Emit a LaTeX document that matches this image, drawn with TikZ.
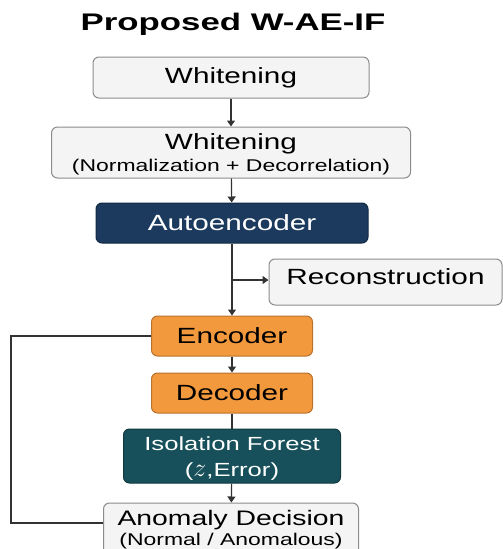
\documentclass[tikz,border=0pt]{standalone}
\usepackage{fontspec}
\setmainfont{Liberation Sans}[FakeStretch=1.35]
\newfontfamily\titlefont{Liberation Sans}[FakeStretch=1.45]
\usepackage{graphicx}
\usepackage{xcolor}
\usetikzlibrary{arrows.meta}

\definecolor{linegray}{HTML}{333333}
\definecolor{boxgray}{HTML}{F4F4F4}
\definecolor{bordergray}{HTML}{8C8C8C}
\definecolor{navybox}{HTML}{1B3A5E}
\definecolor{orangebox}{HTML}{F3993D}
\definecolor{orangeedge}{HTML}{B87230}
\definecolor{tealbox}{HTML}{17505A}

\begin{document}
\begin{tikzpicture}[x=1pt,y=-1pt,
	every node/.style={font=\fontsize{22}{26}\selectfont},
	lightbox/.style={draw=bordergray, fill=boxgray, rounded corners=6pt, line width=1pt, align=center, inner sep=0pt},
	navy/.style={draw=navybox!70!black, fill=navybox, text=white, rounded corners=6pt, line width=1pt, inner sep=0pt},
	orangestep/.style={draw=orangeedge, fill=orangebox, text=black, rounded corners=6pt, line width=1pt, inner sep=0pt},
	forest/.style={draw=tealbox!70!black, fill=tealbox, text=white, rounded corners=6pt, line width=1pt, align=center, inner sep=0pt},
	flow/.style={draw=linegray, line width=1.2pt, -{Triangle[length=6pt,width=8pt]}},
	plain/.style={draw=linegray, line width=1.2pt}]
	\useasboundingbox (0,0) rectangle (503,549);
	
	% Title
	\node (title) at (233,24) {\titlefont\bfseries\fontsize{24}{28}\selectfont Proposed W-AE-IF};
	
	% Whitening
	\node[lightbox, minimum width=276pt, minimum height=41pt] (white) at (231,77.5) {Whitening};
	\node[lightbox, minimum width=359pt, minimum height=51pt] (whiten) at (231,152.5)
		{\rule{0pt}{20pt}Whitening\\[-4pt]{\fontsize{17}{19}\selectfont (Normalization + Decorrelation)}};
	
	% Autoencoder
	\node[navy, minimum width=272pt, minimum height=40pt] (ae) at (232,223) {Autoencoder};
	\node[lightbox, minimum width=233pt, minimum height=46pt, text height=16pt, text depth=12pt] (recon) at (385.5,282) {Reconstruction};
	\node[orangestep, minimum width=161pt, minimum height=40pt] (enc) at (232,336) {Encoder};
	\node[orangestep, minimum width=161pt, minimum height=40pt] (dec) at (232,393) {Decoder};
	
	% Isolation Forest
	\node[forest, minimum width=217pt, minimum height=54pt] (iforest) at (232,456)
		{\fontsize{19}{22}\selectfont\rule{0pt}{19pt}Isolation Forest\\[0pt]\fontsize{19}{22}\selectfont (\scalebox{1.5}{$z$},Error)};
	
	% Decision
	\node[lightbox, minimum width=255pt, minimum height=54pt] (decide) at (231,530)
		{\fontsize{21}{25}\selectfont Anomaly Decision\\[-6pt]{\fontsize{17}{19}\selectfont (Normal / Anomalous)}};
	
	% Arrows
	\draw[flow] (white) -- (whiten);
	\draw[flow] (whiten) -- (ae);
	\draw[flow] (ae) -- (enc);
	\draw[flow] (ae.south |- 0,280) -- (recon.west |- 0,280);
	\draw[flow] (enc) -- (dec);
	\draw[plain] (dec) -- (iforest);
	\draw[flow] (iforest) -- (decide);
	
	% Loop
	\draw[plain] (enc.west) -- ++(-140,0) |- ([yshift=7pt]decide.west);
\end{tikzpicture}
\end{document}
